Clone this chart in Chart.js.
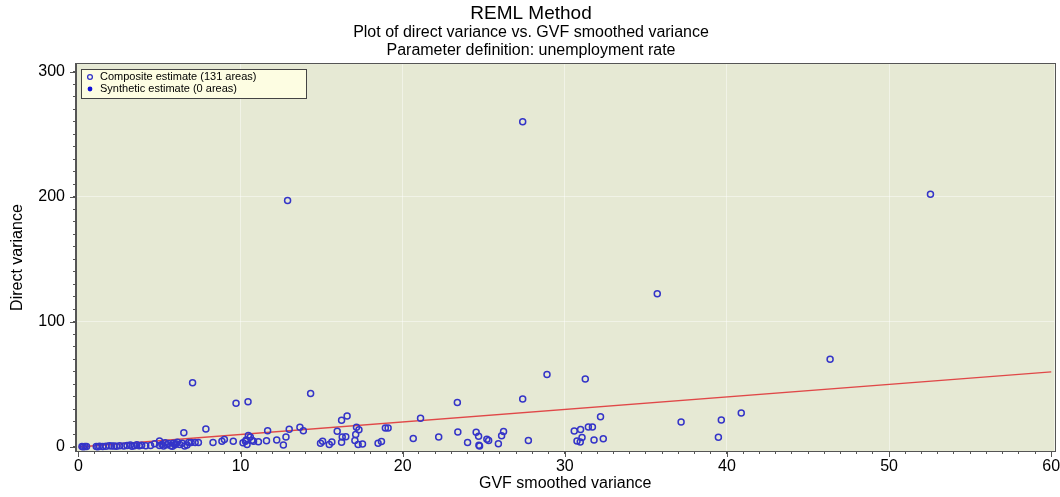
<!DOCTYPE html>
<html>
<head>
<meta charset="utf-8">
<script src="https://cdn.jsdelivr.net/npm/chart.js@4"></script>
<style>
  body { margin: 0; background: #fff; }
  #wrap { width: 1060px; height: 497px; }
</style>
</head>
<body>
<div id="wrap"><canvas id="varianceChart" width="1060" height="497"></canvas></div>
<script>
// GVF smoothed variance (x) and direct variance (y), one value per area
const gvfVariance = [
  0.22, 0.3, 0.4, 0.5, 1.1, 1.3, 1.5, 1.7, 1.9, 2.05,
  2.2, 2.35, 2.55, 3.2, 3.3, 3.45, 3.6, 3.75, 3.9, 4.15,
  4.7, 5.0, 5.0, 5.15, 5.25, 5.45, 5.55, 5.7, 5.85, 5.95,
  6.1, 6.25, 6.4, 6.5, 6.55, 6.8, 6.95, 7.04, 7.2, 7.4,
  7.86, 8.3, 8.85, 9.0, 9.55, 9.72, 10.15, 10.3, 10.35, 10.4,
  10.46, 10.48, 10.7, 10.8, 11.1, 11.6, 11.67, 12.23, 12.64, 12.8,
  12.9, 13.0, 13.66, 13.87, 14.32, 14.93, 15.06, 15.47, 15.63, 15.96,
  16.23, 16.23, 16.27, 16.49, 16.57, 17.05, 17.1, 17.15, 17.25, 17.3,
  17.52, 18.48, 18.69, 18.93, 19.1, 20.65, 21.1, 22.22, 23.37, 23.4,
  24.0, 24.53, 24.68, 24.7, 24.74, 25.19, 25.3, 25.9, 26.1, 26.22,
  27.4, 27.4, 27.75, 28.9, 30.58, 30.75, 30.95, 30.97, 31.06, 31.26,
  31.45, 31.7, 31.8, 32.2, 32.37, 35.7, 37.17, 39.47, 39.65, 40.88,
  46.36, 52.55, 4.45, 5.35, 5.8, 6.0, 2.8, 3.0, 1.2, 10.6,
  6.7
];
const directVariance = [
  0.3, 0.2, 0.4, 0.3, 0.3, 0.5, 0.4, 0.6, 0.9, 0.7,
  0.8, 0.5, 0.9, 1.5, 0.6, 0.9, 1.8, 1.0, 1.3, 0.9,
  2.5, 4.8, 1.2, 2.0, 0.8, 1.8, 2.8, 1.0, 3.0, 1.8,
  3.7, 2.0, 3.0, 11.4, 0.7, 3.5, 3.6, 51.3, 3.5, 3.5,
  14.4, 3.5, 4.5, 6.0, 4.5, 34.9, 3.3, 4.5, 5.5, 2.0,
  36.2, 9.2, 5.3, 4.6, 4.2, 5.0, 13.0, 5.6, 1.6, 8.0,
  197, 14.1, 15.7, 12.9, 42.8, 3.0, 4.6, 2.0, 4.0, 12.6,
  21.3, 3.7, 7.9, 8.2, 24.7, 5.1, 9.9, 15.7, 2.0, 13.8,
  2.3, 3.0, 4.3, 15.2, 15.2, 6.7, 22.9, 8.0, 35.6, 12.0,
  3.5, 11.7, 8.5, 1.3, 0.7, 6.2, 5.1, 2.5, 8.9, 12.4,
  38.3, 260, 5.1, 58, 12.7, 4.7, 4.0, 13.9, 7.5, 54.3,
  16.0, 16.0, 5.6, 24.2, 6.6, 122.5, 20.0, 7.7, 21.5, 27.1,
  70.2, 202, 1.2, 3.3, 0.6, 2.6, 0.7, 1.1, 0.2, 8.0,
  1.5
];
// regression line end points
const fitX = [0, 60];
const fitY = [0, 60];
const xTickLabels = [0, 10, 20, 30, 40, 50, 60];
const yTickLabels = [0, 100, 200, 300];
const seriesNames = ['Composite estimate (131 areas)', 'Synthetic estimate (0 areas)'];

const FONT = '"Liberation Sans", Arial, sans-serif';

// background, frame, longer major ticks and the boxed legend inside the plot
const plotFrame = {
    id: 'plotFrame',
    beforeDraw(chart) {
        const { ctx, chartArea: a } = chart;
        ctx.save();
        ctx.fillStyle = '#e6e9d4';
        ctx.fillRect(a.left, a.top, a.right - a.left, a.bottom - a.top);
        ctx.restore();
    },
    afterDraw(chart) {
        const { ctx, chartArea: a, scales } = chart;
        ctx.save();
        ctx.strokeStyle = '#555';
        ctx.lineWidth = 1;
        ctx.strokeRect(Math.round(a.left) - 0.5, Math.round(a.top) - 0.5,
            Math.round(a.right - a.left) + 1, Math.round(a.bottom - a.top) + 1);

        // major ticks
        ctx.beginPath();
        xTickLabels.forEach(v => {
            const px = Math.round(scales.x.getPixelForValue(v)) + 0.5;
            ctx.moveTo(px, a.bottom);
            ctx.lineTo(px, a.bottom + 6);
        });
        yTickLabels.forEach(v => {
            const py = Math.round(scales.y.getPixelForValue(v)) + 0.5;
            ctx.moveTo(a.left, py);
            ctx.lineTo(a.left - 6, py);
        });
        ctx.stroke();

        const lx = Math.round(a.left) + 5, ly = Math.round(a.top) + 5;
        ctx.fillStyle = '#fdfde2';
        ctx.fillRect(lx, ly, 225, 29);
        ctx.strokeStyle = '#444';
        ctx.strokeRect(lx + 0.5, ly + 0.5, 225, 29);
        ctx.font = '11px ' + FONT;
        ctx.textBaseline = 'middle';
        chart.data.datasets.filter(d => d.inLegend).forEach((d, i) => {
            const cy = ly + 8 + i * 12;
            ctx.beginPath();
            ctx.arc(lx + 9, cy, 2.4, 0, Math.PI * 2);
            if (d.filledMark) {
                ctx.fillStyle = '#1010d8';
                ctx.fill();
            } else {
                ctx.strokeStyle = '#3434c8';
                ctx.lineWidth = 1.3;
                ctx.stroke();
            }
            ctx.fillStyle = '#000';
            ctx.fillText(d.label, lx + 19, cy);
        });
        ctx.restore();
    }
};

const ctx = document.getElementById('varianceChart').getContext('2d');
new Chart(ctx, {
    type: 'scatter',
    data: {
        datasets: [
            {
                label: seriesNames[0],
                inLegend: true,
                data: gvfVariance.map((x, i) => ({ x: x, y: directVariance[i] })),
                pointRadius: 3,
                pointBorderWidth: 1.5,
                borderColor: '#3434c8',
                backgroundColor: 'rgba(0,0,0,0)',
                order: 1
            },
            {
                label: seriesNames[1],
                inLegend: true,
                filledMark: true,
                data: [],
                pointRadius: 3,
                backgroundColor: '#1010d8',
                order: 1
            },
            {
                type: 'line',
                label: 'fit',
                data: fitX.map((x, i) => ({ x: x, y: fitY[i] })),
                borderColor: '#e04848',
                borderWidth: 1.3,
                pointRadius: 0,
                fill: false,
                order: 2
            }
        ]
    },
    options: {
        responsive: false,
        animation: false,
        layout: { padding: { left: 6, right: 4, top: 0, bottom: 2 } },
        plugins: {
            legend: { display: false },
            tooltip: { enabled: false },
            title: {
                display: true,
                text: 'REML Method',
                color: '#000',
                font: { family: FONT, size: 19, weight: 'normal', lineHeight: 1.1 },
                padding: { top: 3, bottom: 0 }
            },
            subtitle: {
                display: true,
                text: ['Plot of direct variance vs. GVF smoothed variance', 'Parameter definition: unemployment rate'],
                color: '#000',
                font: { family: FONT, size: 16, lineHeight: 1.1 },
                padding: { top: 0, bottom: 5 }
            }
        },
        scales: {
            x: {
                type: 'linear',
                min: -0.15,
                max: 60.2,
                afterBuildTicks: s => {
                    s.ticks = [];
                    for (let v = 0; v <= 60; v++) s.ticks.push({ value: v });
                },
                afterFit: s => { s.height = 44; s.paddingLeft = 0; s.paddingRight = 0; },
                ticks: {
                    autoSkip: false,
                    maxRotation: 0,
                    padding: 3,
                    color: '#000',
                    font: { family: FONT, size: 16 },
                    callback: v => xTickLabels.includes(v) ? String(v) : ''
                },
                grid: {
                    color: c => (c.tick && c.tick.value % 10 === 0 && c.tick.value > 0 && c.tick.value < 60)
                        ? 'rgba(255,255,255,0.45)' : 'rgba(0,0,0,0)',
                    tickColor: '#555',
                    tickLength: 3
                },
                border: { color: '#555' },
                title: {
                    display: true,
                    text: 'GVF smoothed variance',
                    color: '#000',
                    font: { family: FONT, size: 16 },
                    padding: { top: 0, bottom: 2 }
                }
            },
            y: {
                type: 'linear',
                min: -3.2,
                max: 306,
                afterBuildTicks: s => {
                    s.ticks = [];
                    for (let v = 0; v <= 300; v += 10) s.ticks.push({ value: v });
                },
                afterFit: s => { s.width = 70; },
                ticks: {
                    autoSkip: false,
                    padding: 8,
                    color: '#000',
                    font: { family: FONT, size: 16 },
                    callback: v => yTickLabels.includes(v) ? String(v) : ''
                },
                grid: {
                    color: c => (c.tick && c.tick.value % 100 === 0 && c.tick.value > 0 && c.tick.value < 300)
                        ? 'rgba(255,255,255,0.45)' : 'rgba(0,0,0,0)',
                    tickColor: '#555',
                    tickLength: 3
                },
                border: { color: '#555' },
                title: {
                    display: true,
                    text: 'Direct variance',
                    color: '#000',
                    font: { family: FONT, size: 16 },
                    padding: { top: 2, bottom: 0 }
                }
            }
        }
    },
    plugins: [plotFrame]
});
</script>
</body>
</html>
